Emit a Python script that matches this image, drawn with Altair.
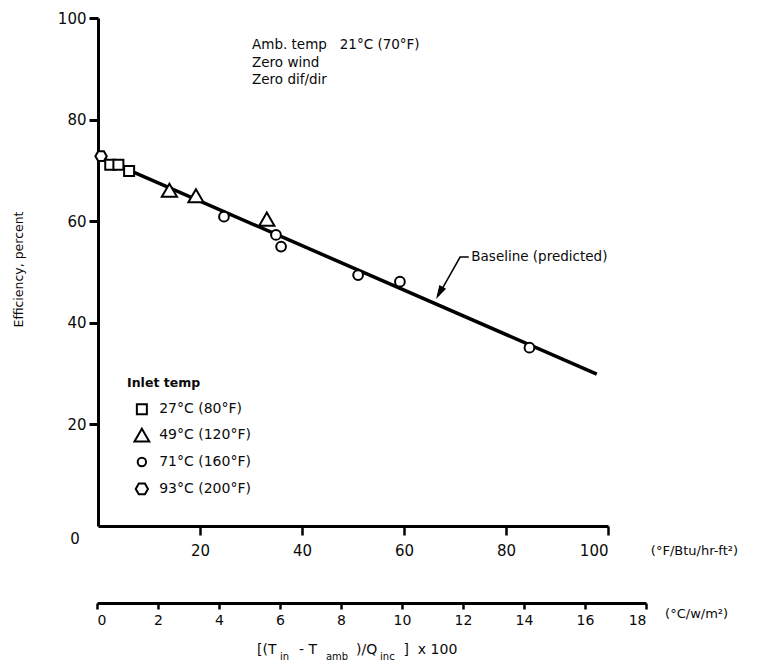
import altair as alt
import pandas as pd

# ---- data ----
sq_x = [2.4, 4.0, 6.1]
sq_y = [71.1, 71.1, 69.9]
tri_x = [14.0, 19.2, 33.1]
tri_y = [66.1, 65.0, 60.4]
circ_x = [24.7, 34.9, 35.9, 51.0, 59.2, 84.6]
circ_y = [60.9, 57.3, 55.0, 49.4, 48.1, 35.1]
hex_x = [0.6]
hex_y = [72.8]
base_x = [0.0, 97.8]
base_y = [72.7, 29.9]

y_ticks = [20, 40, 60, 80, 100]
x_ticks = [20, 40, 60, 80, 100]
c_ticks = [0, 2, 4, 6, 8, 10, 12, 14, 16, 18]

legend_title = ["Inlet temp"]
legend_labels = ["27°C (80°F)", "49°C (120°F)", "71°C (160°F)", "93°C (200°F)"]
legend_y = [23.0, 17.9, 12.6, 7.3]

note_lines = ["Amb. temp\u00a0\u00a0 21°C (70°F)", "Zero wind", "Zero dif/dir"]
note_y = [94.7, 91.2, 87.8]

title_main = ["[(T", "- T", ")/Q", "]\u00a0\u00a0x\u00a0100"]
title_main_x = [31.2, 39.4, 50.6, 59.9]
title_sub = ["in", "amb", "inc"]
title_sub_x = [35.7, 44.7, 55.3]

FONT = "DejaVu Sans"
INK = "#0a0a0a"
HEX = "M-1,0L-0.5,-0.866L0.5,-0.866L1,0L0.5,0.866L-0.5,0.866Z"
ARROW = "M0,-1L-0.45,0.6L0.45,0.6Z"

XS = alt.Scale(domain=[0, 100], nice=False, zero=False)
YS = alt.Scale(domain=[0, 100], nice=False, zero=False)

AX = alt.Axis(
    values=x_ticks, title=None, grid=False, orient="bottom", domainColor="black", domainWidth=3,
    tickColor="black", tickWidth=2.5, tickSize=9, labelPadding=8,
    labelFont=FONT, labelFontSize=15, labelColor=INK)
AY = alt.Axis(
    values=y_ticks, title="Efficiency, percent", grid=False, orient="left", domainColor="black",
    domainWidth=3, tickColor="black", tickWidth=3, tickSize=9, labelPadding=3,
    labelFont=FONT, labelFontSize=15, labelColor=INK,
    titleFont=FONT, titleFontSize=12.5, titleFontWeight="normal", titleColor=INK,
    titleX=-73, titleY=251)


def enc(chart, xf="x", yf="y"):
    return chart.encode(
        x=alt.X(f"{xf}:Q", scale=XS, axis=AX),
        y=alt.Y(f"{yf}:Q", scale=YS, axis=AY),
    )


line = enc(alt.Chart(pd.DataFrame({"x": base_x, "y": base_y})).mark_line(
    color="black", strokeWidth=3.5))

pt_style = dict(filled=True, fill="white", stroke="black", strokeWidth=2, opacity=1)
squares = enc(alt.Chart(pd.DataFrame({"x": sq_x, "y": sq_y})).mark_point(shape="square", size=100, **pt_style))
tris = enc(alt.Chart(pd.DataFrame({"x": tri_x, "y": tri_y})).mark_point(shape="triangle-up", size=230, **pt_style))
circs = enc(alt.Chart(pd.DataFrame({"x": circ_x, "y": circ_y})).mark_point(shape="circle", size=95, **pt_style))
hexes = enc(alt.Chart(pd.DataFrame({"x": hex_x, "y": hex_y})).mark_point(shape=HEX, size=130, **pt_style))

# legend (drawn inside plot)
leg_shapes = ["square", "triangle-up", "circle", HEX]
leg_sizes = [100, 220, 70, 150]
leg_layers = []
for shp, sz, yy in zip(leg_shapes, leg_sizes, legend_y):
    leg_layers.append(enc(alt.Chart(pd.DataFrame({"x": [8.6], "y": [yy]})).mark_point(
        shape=shp, size=sz, **pt_style)))
leg_text = enc(alt.Chart(pd.DataFrame({"x": [12.0] * 4, "y": legend_y, "t": legend_labels})).mark_text(
    align="left", baseline="middle", font=FONT, fontSize=14, color=INK)).encode(text="t:N")
leg_title = enc(alt.Chart(pd.DataFrame({"x": [5.7], "y": [28.1], "t": legend_title})).mark_text(
    align="left", baseline="middle", font=FONT, fontSize=12.5, fontWeight="bold", color=INK)).encode(text="t:N")

notes = enc(alt.Chart(pd.DataFrame({"x": [30.2] * 3, "y": note_y, "t": note_lines})).mark_text(
    align="left", baseline="middle", font=FONT, fontSize=13.5, color=INK)).encode(text="t:N")

# baseline annotation with leader + arrow
lead = enc(alt.Chart(pd.DataFrame({"x": [72.7, 71.0, 66.7], "y": [52.95, 52.95, 45.3], "o": [0, 1, 2]})).mark_line(
    color="black", strokeWidth=1.5)).encode(order="o:Q")
arrow = enc(alt.Chart(pd.DataFrame({"x": [67.14], "y": [46.24]})).mark_point(
    shape=ARROW, size=200, filled=True, fill="black", stroke="black", strokeWidth=1, angle=209, opacity=1))
base_lbl = enc(alt.Chart(pd.DataFrame({"x": [73.2], "y": [52.95], "t": ["Baseline (predicted)"]})).mark_text(
    align="left", baseline="middle", font=FONT, fontSize=13.5, color=INK)).encode(text="t:N")

# outside-plot texts
zero_lbl = enc(alt.Chart(pd.DataFrame({"x": [-4.5], "y": [-2.6], "t": ["0"]})).mark_text(
    align="center", baseline="middle", font=FONT, fontSize=15, color=INK)).encode(text="t:N")
unit_lbl = enc(alt.Chart(pd.DataFrame({"x": [108.4, 111.2], "y": [-4.9, -17.3],
                                       "t": ["(°F/Btu/hr-ft²)", "(°C/w/m²)"]})).mark_text(
    align="left", baseline="middle", font=FONT, fontSize=13, color=INK)).encode(text="t:N")
ttl_main = enc(alt.Chart(pd.DataFrame({"x": title_main_x, "y": [-24.4] * 4, "t": title_main})).mark_text(
    align="left", baseline="middle", font=FONT, fontSize=14, color=INK)).encode(text="t:N")
ttl_sub = enc(alt.Chart(pd.DataFrame({"x": title_sub_x, "y": [-25.7] * 3, "t": title_sub})).mark_text(
    align="left", baseline="middle", font=FONT, fontSize=10, color=INK)).encode(text="t:N")

main = alt.layer(
    line, squares, tris, circs, hexes, *leg_layers, leg_text, leg_title, notes,
    lead, arrow, base_lbl, zero_lbl, unit_lbl, ttl_main, ttl_sub
)

# secondary (SI) axis
sec = alt.Chart(pd.DataFrame({"c": [0, 18], "y": [0, 0]})).mark_point(opacity=0).encode(
    x=alt.X("c:Q", scale=alt.Scale(domain=[0, 18], range=[-1, 548], nice=False, zero=False),
            axis=alt.Axis(values=c_ticks, title=None, grid=False, orient="bottom", offset=77,
                          domainColor="black", domainWidth=3, tickColor="black", tickWidth=2.5,
                          tickSize=6, labelPadding=4, labelFont=FONT, labelFontSize=14,
                          labelColor=INK)),
    y=alt.Y("y:Q", scale=YS, axis=AY),
)

chart = alt.layer(main, sec).resolve_scale(x="independent").properties(
    width=510, height=508,
    background="white",
    autosize=alt.AutoSizeParams(type="none"),
    padding={"left": 90, "top": 10, "right": 166, "bottom": 135},
).configure_view(stroke=None)

chart.save("out.html", embed_options={"renderer": "svg", "actions": False})
